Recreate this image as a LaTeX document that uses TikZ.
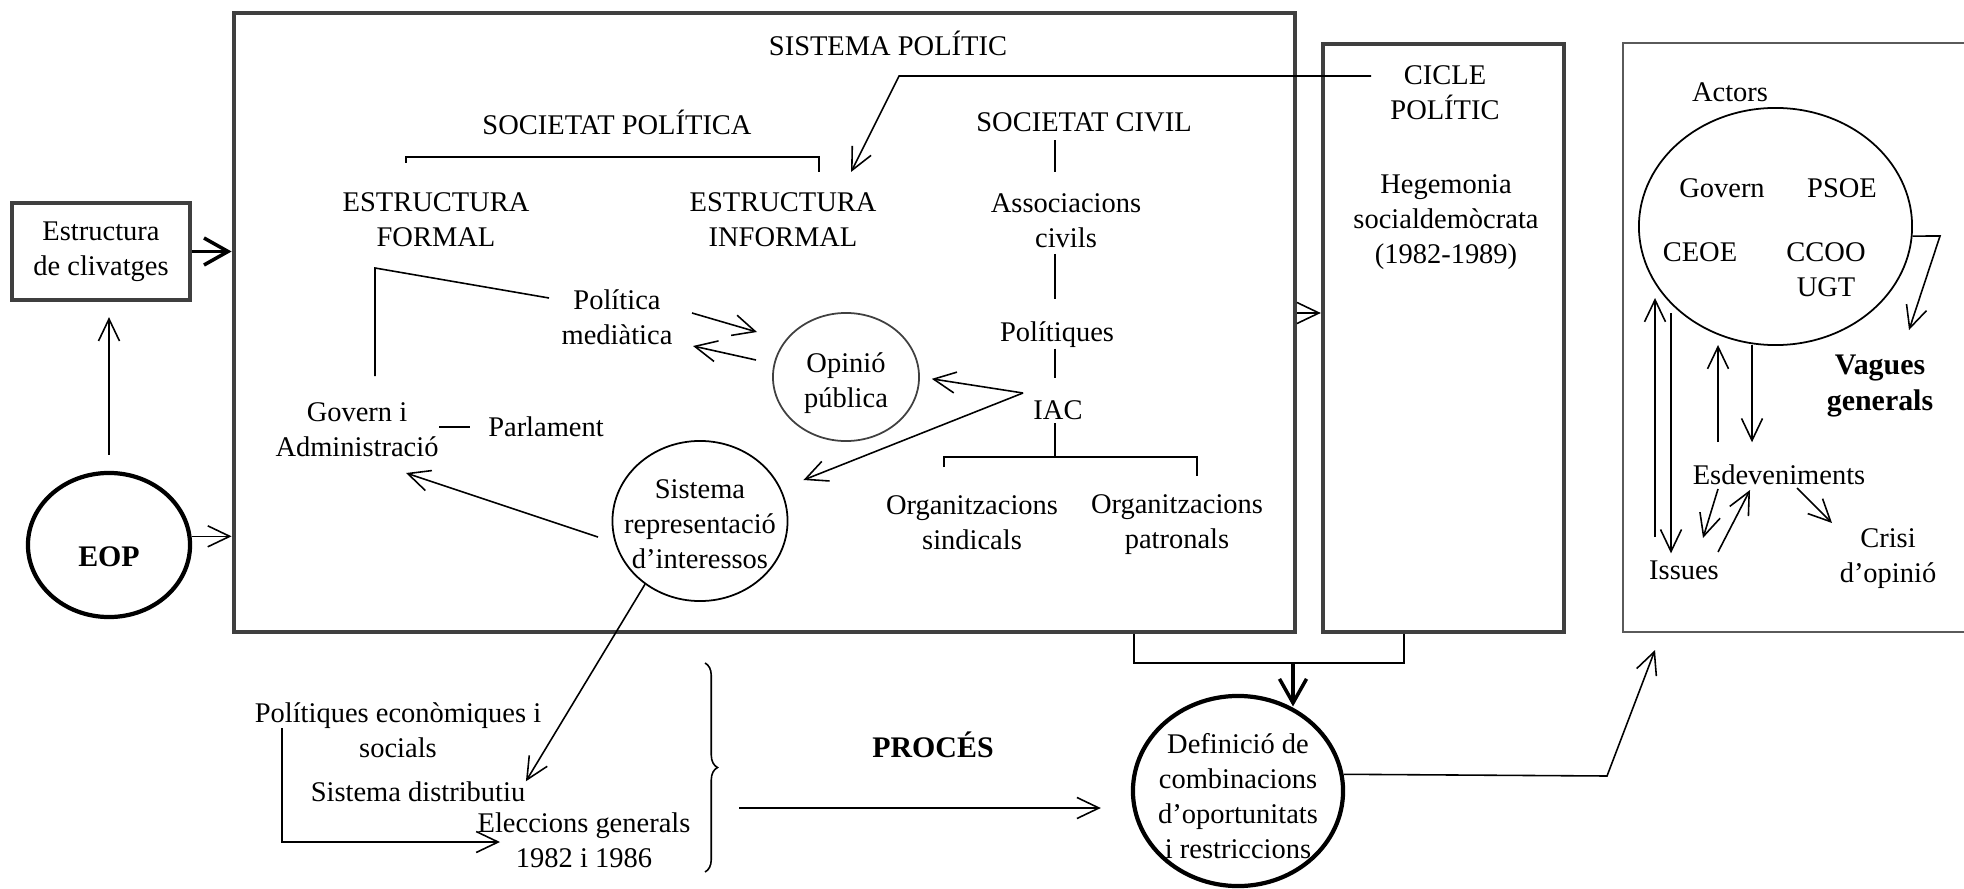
\documentclass[tikz,border=0pt]{standalone}
\usepackage{fontspec}
\setmainfont{Liberation Serif}
\usetikzlibrary{arrows.meta,shapes.geometric,decorations.pathreplacing}
\definecolor{framegrey}{HTML}{3f3f3f}
\definecolor{panelgrey}{HTML}{5a5a5a}
\tikzset{
  txt/.style={align=center, inner sep=0pt, font=\fontsize{8.1}{9.96}\selectfont},
  boldtxt/.style={txt, font=\fontsize{8.5}{9.96}\selectfont\bfseries},
  arr/.style={-{Straight Barb[length=2.2mm,width=2.1mm]}, line width=0.45pt},
  fatarr/.style={-{Straight Barb[length=2.4mm,width=2.7mm]}, line width=1pt},
  frame/.style={draw=framegrey, line width=1.2pt, inner sep=0pt},
  oval/.style={ellipse, draw, inner sep=0pt, line width=0.5pt},
  link/.style={line width=0.45pt}
}

\begin{document}
\begin{tikzpicture}[x=0.01cm, y=-0.01cm]
  \useasboundingbox (0,0) rectangle (1964,888);

  \node[frame, minimum width=10.61cm, minimum height=6.19cm] (sysbox) at (764.5,322.5) {};
  \node[frame, minimum width=2.41cm, minimum height=5.88cm] (ciclebox) at (1443.5,338) {};
  \node[draw=panelgrey, line width=0.6pt, inner sep=0pt, minimum width=3.6cm, minimum height=5.89cm] (actbox) at (1803,337.5) {};
  \node[frame, txt, minimum width=1.775cm, minimum height=0.97cm] (cliv) at (101,251.5) {Estructura\\de clivatges};

  \node[oval, line width=1.2pt, minimum width=1.62cm, minimum height=1.44cm] (eop) at (109,545) {};
  \node[boldtxt] (eoptxt) at (109,557) {EOP};

  \node[txt] (systxt) at (888,43) {SISTEMA POLÍTIC};
  \node[txt] (socpol) at (617,122) {SOCIETAT POLÍTICA};
  \node[txt] (socciv) at (1084,122) {SOCIETAT CIVIL};
  \node[txt] (estform) at (436,220) {ESTRUCTURA\\FORMAL};
  \node[txt] (estinf) at (783,220) {ESTRUCTURA\\INFORMAL};
  \node[txt] (assoc) at (1066,221) {Associacions\\civils};
  \node[txt] (polq) at (1057,335) {Polítiques};
  \node[txt] (iac) at (1058,410) {IAC};
  \node[txt] (orgsin) at (972,523) {Organitzacions\\sindicals};
  \node[txt] (orgpat) at (1177,525) {Organitzacions\\patronals};
  \node[txt] (polmed) at (617,317) {Política\\mediàtica};
  \node[oval, draw=black!75, minimum width=1.46cm, minimum height=1.28cm] (opinio) at (846,377) {};
  \node[txt] (opiniotxt) at (846,383) {Opinió\\pública};
  \node[txt] (govern) at (357,430) {Govern i\\Administració};
  \node[txt] (parl) at (546,427) {Parlament};
  \node[oval, minimum width=1.75cm, minimum height=1.6cm] (sri) at (700,521) {};
  \node[txt] (sritxt) at (700,524) {Sistema\\representació\\d’interessos};

  \node[txt] (cicletxt) at (1445,92.5) {CICLE\\POLÍTIC};
  \node[txt] (hegem) at (1446,222) {Hegemonia\\socialdemòcrata\\(1982-1989)};

  \node[txt] (actors) at (1730,92) {Actors};
  \node[oval, minimum width=2.73cm, minimum height=2.37cm] (actell) at (1775.5,226.5) {};
  \node[txt] (govact) at (1722,188) {Govern};
  \node[txt] (psoe) at (1842,188) {PSOE};
  \node[txt] (ceoe) at (1700,252) {CEOE};
  \node[txt] (ugt) at (1826,269.5) {CCOO\\UGT};
  \node[boldtxt] (vagues) at (1880,386) {Vagues\\generals};
  \node[txt] (esdev) at (1779,475) {Esdeveniments};
  \node[txt] (issues) at (1684,570) {Issues};
  \node[txt] (crisi) at (1888,559) {Crisi\\d’opinió};

  \node[oval, line width=1.2pt, minimum width=2.1cm, minimum height=1.9cm] (defin) at (1238,791) {};
  \node[txt] (defintxt) at (1238,796) {Definició de\\combinacions\\d’oportunitats\\i restriccions};
  \node[boldtxt] (proces) at (933,745) {PROCÉS};
  \node[txt] (politeco) at (398,730) {Polítiques econòmiques i\\socials};
  \node[txt] (sisdist) at (418,792) {Sistema distributiu};
  \node[txt] (elecc) at (584,840.5) {Eleccions generals\\1982 i 1986};

  \coordinate (brl) at (406,163);
  \coordinate (brtop) at (612,157);
  \coordinate (brr) at (819,172);
  \coordinate (ocj) at (1055,457);
  \coordinate (osl) at (944,467);
  \coordinate (osr) at (1197,476);
  \coordinate (fg1) at (375,268);
  \coordinate (fg2) at (549,298);
  \coordinate (pm1) at (692,313);
  \coordinate (pm2) at (757,332);
  \coordinate (pm3) at (756,360);
  \coordinate (pm4) at (693,346);
  \coordinate (iacp) at (1023,393);
  \coordinate (sg1) at (598,537);
  \coordinate (sg2) at (406,473);
  \coordinate (pe1) at (282,728);
  \coordinate (pe2) at (500,842);
  \coordinate (pr1) at (739,808);
  \coordinate (bt) at (705,663);
  \coordinate (bb) at (705,872);
  \coordinate (bj1) at (1134,663);
  \coordinate (bj2) at (1404,663);
  \coordinate (bjm) at (1293,663);
  \coordinate (scy) at (1300,313);
  \coordinate (ck1) at (899,76);
  \coordinate (ck2) at (851,172);
  \coordinate (dq) at (1607,776);
  \coordinate (dt) at (1655,650);
  \coordinate (av1) at (1940,236);
  \coordinate (av2) at (1909,330);
  \coordinate (lu) at (1655,537);
  \coordinate (lut) at (1655,298);
  \coordinate (ld) at (1671,313);
  \coordinate (eu) at (1718,442);
  \coordinate (eut) at (1718,345);
  \coordinate (ed) at (1752,345);
  \coordinate (ei1) at (1718,489);
  \coordinate (ei2) at (1703,538);
  \coordinate (ie1) at (1718,552);
  \coordinate (ie2) at (1750,490);
  \coordinate (ec1) at (1797,488);
  \coordinate (ec2) at (1832,523);

  \draw[arr, shorten <=0.16cm, shorten >=0.15cm] (eop.north) -- (eop.north |- cliv.south);
  \draw[fatarr] (cliv.east) -- (cliv.east -| sysbox.west);
  \draw[arr] (eop.6) -- (eop.6 -| sysbox.west);

  \draw[link] (brl) |- (brtop) -| (brr);
  \draw[link, shorten <=0.08cm, shorten >=0.21cm] (socciv.south -| ocj) -- (assoc.north -| ocj);
  \draw[link, shorten <=0.05cm, shorten >=0.22cm] (assoc.south -| ocj) -- (polq.north -| ocj);
  \draw[link, shorten >=0.22cm] (polq.south -| ocj) -- (iac.north -| ocj);
  \draw[link, shorten <=0.03cm] (iac.south -| ocj) -- (ocj);
  \draw[link] (osl) |- (ocj) -| (osr);

  \draw[link, shorten <=0.26cm] (govern.north -| fg1) -- (fg1) -- (fg2);
  \draw[link, shorten >=0.18cm] (govern.east |- parl) -- (parl.west);
  \draw[arr] (pm1) -- (pm2);
  \draw[arr] (pm3) -- (pm4);
  \draw[arr, shorten >=0.12cm] (iacp) -- (opinio.east);
  \draw[arr, shorten >=0.24cm] (iacp) -- (sri);
  \draw[arr] (sg1) -- (sg2);

  \draw[arr] (sri.-131) -- (sisdist.north east);
  \draw[arr] (pe1) |- (pe2);
  \draw[link, decorate, decoration={brace, amplitude=0.125cm}] (bt) -- (bb);
  \draw[arr, shorten >=0.3cm] (pr1) -- (pr1 -| defin.west);

  \draw[link] (bj1 |- sysbox.south) -- (bj1) -- (bj2) -- (bj2 |- ciclebox.south);
  \draw[fatarr] (bjm) -- (bjm |- defin.58);
  \draw[arr] (scy -| sysbox.east) -- (scy -| ciclebox.west);
  \draw[arr, shorten <=0.185cm] (cicletxt.west |- ck1) -- (ck1) -- (ck2);
  \draw[arr] (defin.9) -- (dq) -- (dt);

  \draw[arr] (actell.-4) -- (av1) -- (av2);
  \draw[arr] (lu) -- (lut);
  \draw[arr, shorten >=0.065cm] (ld) -- (ld |- issues.north);
  \draw[arr] (eu) -- (eut);
  \draw[arr, shorten >=0.22cm] (ed) -- (ed |- esdev.north);
  \draw[arr] (ei1) -- (ei2);
  \draw[arr] (ie1) -- (ie2);
  \draw[arr] (ec1) -- (ec2);

\end{tikzpicture}
\end{document}
